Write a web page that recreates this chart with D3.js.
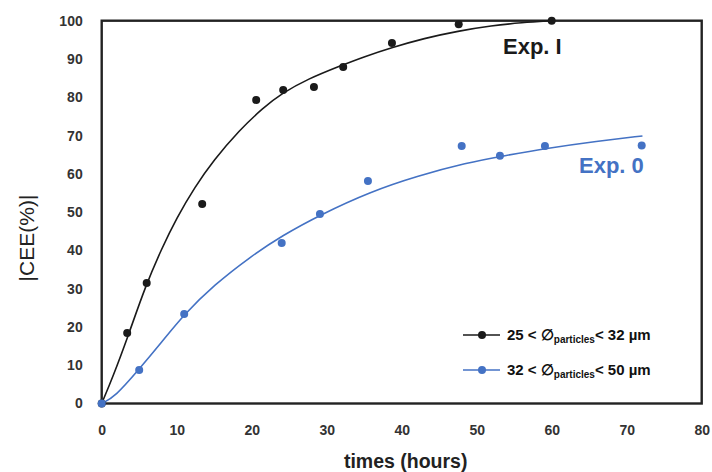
<!DOCTYPE html>
<html>
<head>
<meta charset="utf-8">
<script src="https://cdn.jsdelivr.net/npm/d3@7"></script>
<style>
  html, body { margin: 0; padding: 0; background: #fff; }
  svg { display: block; }
</style>
</head>
<body>
<svg id="chart" width="712" height="472"></svg>
<script>
// ---- data ----
const xTicks = [0, 10, 20, 30, 40, 50, 60, 70, 80];
const yTicks = [0, 10, 20, 30, 40, 50, 60, 70, 80, 90, 100];

// Exp. I : 25 < Ø particles < 32 µm (measured points)
const expI_t = [0, 3.4, 6.0, 13.4, 20.6, 24.2, 28.3, 32.2, 38.7, 47.6, 60];
const expI_y = [0, 18.4, 31.5, 52.1, 79.3, 81.9, 82.7, 87.9, 94.2, 99.1, 100];
// Exp. I fitted curve
const fitI_t = [0, 1.5, 3.5, 5.8, 8, 10, 12.4, 14.9, 18.4, 21.5, 24, 27.5, 31.8, 35, 38.7, 43, 47.5, 52, 56, 60];
const fitI_y = [0, 7.0, 17.5, 30.5, 40.5, 48.5, 56.5, 63.5, 71.5, 77.2, 81, 84.8, 88.2, 90.6, 93, 95.4, 97.3, 98.7, 99.5, 100];

// Exp. 0 : 32 < Ø particles < 50 µm (measured points)
const exp0_t = [0, 5.0, 11.0, 24.0, 29.1, 35.5, 48.0, 53.1, 59.1, 72.0];
const exp0_y = [0, 8.75, 23.4, 41.9, 49.5, 58.1, 67.3, 64.7, 67.3, 67.4];
// Exp. 0 fitted curve
const fit0_t = [0, 1.8, 4.9, 8, 10.9, 15, 19.8, 24, 29.25, 35.8, 42, 48.7, 53.6, 59.5, 66, 72.1];
const fit0_y = [0, 1.8, 8.75, 16, 23.1, 31, 38.3, 43.8, 49.4, 55.3, 59.4, 62.9, 64.7, 66.7, 68.5, 69.9];

// ---- layout ----
const svg = d3.select("#chart");
const mLeft = 101.7, mRight = 701.7, mTop = 20.7, mBottom = 403.5;
const x = d3.scaleLinear().domain([0, 80]).range([mLeft, mRight]);
const y = d3.scaleLinear().domain([0, 100]).range([mBottom, mTop]);

const black = "#1a1a1a";
const blue = "#4472C4";
const font = "'Liberation Sans', Arial, sans-serif";

// axes (labels only, no tick marks)
const xAxis = svg.append("g").attr("transform", `translate(0,${mBottom})`)
  .call(d3.axisBottom(x).tickValues(xTicks).tickSize(0).tickPadding(22).tickFormat(d3.format("d")));
xAxis.select(".domain").remove();
xAxis.selectAll("text").attr("font-family", font).attr("font-size", 14).attr("font-weight", "bold").attr("fill", "#333");

const yAxis = svg.append("g").attr("transform", `translate(${mLeft},0)`)
  .call(d3.axisLeft(y).tickValues(yTicks).tickSize(0).tickPadding(19).tickFormat(d3.format("d")));
yAxis.select(".domain").remove();
yAxis.selectAll("text").attr("font-family", font).attr("font-size", 14).attr("font-weight", "bold").attr("fill", "#333");

// frame
svg.append("rect")
  .attr("x", mLeft).attr("y", mTop)
  .attr("width", mRight - mLeft).attr("height", mBottom - mTop)
  .attr("fill", "none").attr("stroke", "#222").attr("stroke-width", 2.4);

// curves
const line = d3.line().x(d => x(d[0])).y(d => y(d[1])).curve(d3.curveBasis);
svg.append("path").datum(fitI_t.map((t, i) => [t, fitI_y[i]]))
  .attr("d", line).attr("fill", "none").attr("stroke", black).attr("stroke-width", 1.6);
svg.append("path").datum(fit0_t.map((t, i) => [t, fit0_y[i]]))
  .attr("d", line).attr("fill", "none").attr("stroke", blue).attr("stroke-width", 1.6);

// points
svg.append("g").selectAll("circle").data(expI_t.map((t, i) => [t, expI_y[i]]))
  .join("circle").attr("cx", d => x(d[0])).attr("cy", d => y(d[1])).attr("r", 4).attr("fill", black);
svg.append("g").selectAll("circle").data(exp0_t.map((t, i) => [t, exp0_y[i]]))
  .join("circle").attr("cx", d => x(d[0])).attr("cy", d => y(d[1])).attr("r", 4).attr("fill", blue);

// series labels
svg.append("text").attr("x", 503).attr("y", 54).text("Exp. I")
  .attr("font-family", font).attr("font-size", 22).attr("font-weight", "bold").attr("fill", black);
svg.append("text").attr("x", 579).attr("y", 173).text("Exp. 0")
  .attr("font-family", font).attr("font-size", 22).attr("font-weight", "bold").attr("fill", blue);

// axis titles
svg.append("text").attr("x", mLeft + (mRight - mLeft) / 2 + 4).attr("y", 468)
  .attr("text-anchor", "middle").text("times (hours)")
  .attr("font-family", font).attr("font-size", 19.5).attr("font-weight", "bold").attr("fill", "#222");
svg.append("text").attr("transform", "translate(34,238) rotate(-90)")
  .attr("text-anchor", "middle").text("|CEE(%)|")
  .attr("font-family", font).attr("font-size", 21).attr("fill", "#222");

// legend
const legend = [
  { color: black, pre: "25 < ∅", sub: "particles", post: "< 32 µm", yy: 335 },
  { color: blue, pre: "32 < ∅", sub: "particles", post: "< 50 µm", yy: 370 }
];
legend.forEach(l => {
  svg.append("line").attr("x1", 463).attr("x2", 500).attr("y1", l.yy).attr("y2", l.yy)
    .attr("stroke", l.color).attr("stroke-width", 1.6);
  svg.append("circle").attr("cx", 482).attr("cy", l.yy).attr("r", 4).attr("fill", l.color);
  const t = svg.append("text").attr("x", 507).attr("y", l.yy + 5)
    .attr("font-family", font).attr("font-size", 15).attr("font-weight", "bold").attr("fill", "#111");
  t.append("tspan").text(l.pre);
  t.append("tspan").attr("dy", 3).attr("font-size", 10).text(l.sub);
  t.append("tspan").attr("dy", -3).text(l.post);
});
</script>
</body>
</html>
